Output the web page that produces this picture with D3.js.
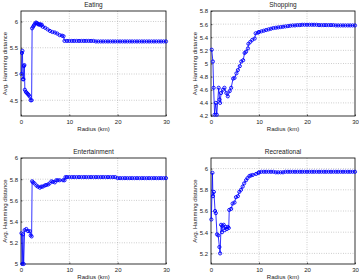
<!DOCTYPE html>
<html><head><meta charset="utf-8">
<script src="https://cdn.jsdelivr.net/npm/d3@7/dist/d3.min.js"></script>
<style>body{margin:0;background:#fff}</style>
</head><body>
<script>
const xTicks = [0, 10, 20, 30];
const tailRadius = [10,10.5,11,11.5,12,12.5,13,13.5,14,14.5,15,15.5,16,16.5,17,17.5,18,18.5,19,19.5,20,20.5,21,21.5,22,22.5,23,23.5,24,24.5,25,25.5,26,26.5,27,27.5,28,28.5,29,29.5,30];

const eatingRadius = [0.1,0.2,0.3,0.4,0.5,0.6,0.7,0.8,1.0,1.2,1.4,1.6,1.8,2.0,2.2,2.3,2.5,2.7,2.9,3.1,3.3,3.5,3.7,3.9,4.1,4.3,4.5,5.0,5.5,6.0,6.5,7.0,7.5,8.0,8.5,8.8,9.0,9.5];
const eatingEarly = [5.0,5.4,5.44,4.9,4.9,5.15,5.17,4.7,4.66,4.64,4.62,4.6,4.57,4.5,4.5,5.87,5.9,5.93,5.96,5.98,5.97,5.95,5.94,5.95,5.93,5.94,5.9,5.88,5.85,5.82,5.8,5.79,5.77,5.74,5.73,5.72,5.63,5.63];
const eatingTail = [5.63,5.63,5.63,5.63,5.63,5.63,5.63,5.63,5.63,5.63,5.63,5.62,5.62,5.62,5.62,5.62,5.62,5.62,5.62,5.62,5.62,5.62,5.62,5.62,5.62,5.62,5.62,5.62,5.62,5.62,5.62,5.62,5.62,5.62,5.62,5.62,5.62,5.62,5.62,5.62,5.62];

const shoppingRadius = [0.15,0.4,0.55,0.75,1.0,1.2,1.6,1.8,1.9,2.1,2.5,2.8,3.2,3.5,3.9,4.2,4.6,4.9,5.3,5.6,6.0,6.3,6.7,7.0,7.3,7.7,7.8,8.2,8.6,9.1,9.3,9.8];
const shoppingEarly = [5.21,5.03,4.63,4.22,4.4,4.22,4.63,4.45,4.4,4.55,4.6,4.63,4.55,4.5,4.58,4.63,4.77,4.78,4.85,4.9,4.96,5.03,5.05,5.16,5.18,5.23,5.3,5.33,5.36,5.38,5.46,5.47];
const shoppingTail = [5.48,5.49,5.5,5.51,5.52,5.53,5.54,5.545,5.55,5.555,5.56,5.565,5.57,5.575,5.58,5.58,5.585,5.585,5.59,5.59,5.59,5.59,5.59,5.59,5.59,5.585,5.585,5.585,5.585,5.585,5.585,5.585,5.58,5.58,5.58,5.58,5.58,5.58,5.58,5.58,5.58];

const entRadius = [0.1,0.25,0.4,0.55,0.75,1.1,1.45,1.8,2.0,2.2,2.3,2.5,2.8,3.2,3.5,3.9,4.2,4.5,4.9,5.2,5.6,5.9,6.3,6.6,7.0,7.3,7.6,8.0,8.7,9.0,9.2,9.5];
const entEarly = [5.29,5.0,5.28,5.0,5.32,5.33,5.31,5.31,5.27,5.26,5.78,5.77,5.76,5.74,5.73,5.72,5.73,5.73,5.74,5.745,5.75,5.76,5.78,5.775,5.77,5.79,5.79,5.79,5.79,5.79,5.82,5.82];
const entTail = [5.82,5.82,5.82,5.82,5.82,5.82,5.82,5.82,5.82,5.82,5.82,5.82,5.82,5.82,5.82,5.82,5.82,5.82,5.82,5.82,5.81,5.81,5.81,5.81,5.81,5.81,5.81,5.81,5.81,5.81,5.81,5.81,5.81,5.81,5.81,5.81,5.81,5.81,5.81,5.81,5.81];

const recRadius = [0.07,0.3,0.4,0.6,0.85,1.0,1.25,1.5,1.75,1.9,2.1,2.3,2.4,2.65,2.85,3.05,3.3,3.5,3.7,3.8,4.2,4.5,4.9,5.2,5.6,5.9,6.25,6.6,6.9,7.3,7.6,8.0,8.3,8.7,9.4,9.9];
const recEarly = [5.52,5.96,5.74,5.78,5.6,5.58,5.38,5.37,5.26,5.2,5.47,5.4,5.46,5.47,5.42,5.45,5.43,5.45,5.44,5.61,5.62,5.67,5.68,5.73,5.74,5.78,5.8,5.83,5.86,5.89,5.91,5.93,5.935,5.94,5.95,5.96];
const recTail = [5.965,5.97,5.97,5.97,5.97,5.97,5.97,5.965,5.965,5.965,5.965,5.97,5.97,5.97,5.97,5.97,5.97,5.97,5.97,5.97,5.97,5.97,5.97,5.97,5.97,5.97,5.97,5.97,5.97,5.97,5.97,5.97,5.97,5.97,5.97,5.97,5.97,5.97,5.97,5.97,5.97];

const eatingTicks = [4.5, 5, 5.5, 6];
const shoppingTicks = [4.2, 4.4, 4.6, 4.8, 5, 5.2, 5.4, 5.6, 5.8];
const entTicks = [5, 5.2, 5.4, 5.6, 5.8, 6];
const recTicks = [5.2, 5.4, 5.6, 5.8, 6];

const titles = ["Eating", "Shopping", "Entertainment", "Recreational"];
const xLabel = "Radius (km)";
const yLabel = "Avg. Hamming distance";

const panels = [
  {title: titles[0], r: eatingRadius.concat(tailRadius), v: eatingEarly.concat(eatingTail), dom: [4.2, 6.2], ticks: eatingTicks, box: [21, 11, 166, 116]},
  {title: titles[1], r: shoppingRadius.concat(tailRadius), v: shoppingEarly.concat(shoppingTail), dom: [4.2, 5.8], ticks: shoppingTicks, box: [211, 11, 355, 116]},
  {title: titles[2], r: entRadius.concat(tailRadius), v: entEarly.concat(entTail), dom: [5, 6], ticks: entTicks, box: [21, 158, 166, 264]},
  {title: titles[3], r: recRadius.concat(tailRadius), v: recEarly.concat(recTail), dom: [5.1, 6.1], ticks: recTicks, box: [211, 158, 355, 264]}
];

const svg = d3.select("body").append("svg").attr("width", 359).attr("height", 280)
  .style("font-family", "'Liberation Sans', Arial, sans-serif");

const fmt = d => String(+d.toFixed(1));

panels.forEach(p => {
  const [x0, y0, x1, y1] = p.box;
  const x = d3.scaleLinear().domain([0, 30]).range([x0, x1]);
  const y = d3.scaleLinear().domain(p.dom).range([y1, y0]);
  const g = svg.append("g");

  // grid
  g.selectAll(".gx").data(xTicks.filter(t => t > 0 && t < 30)).enter().append("line")
    .attr("x1", d => x(d)).attr("x2", d => x(d)).attr("y1", y0).attr("y2", y1)
    .attr("stroke", "#999").attr("stroke-width", 0.6).attr("stroke-dasharray", "0.8,1.6");
  g.selectAll(".gy").data(p.ticks.filter(t => t > p.dom[0] + 1e-9 && t < p.dom[1] - 1e-9)).enter().append("line")
    .attr("x1", x0).attr("x2", x1).attr("y1", d => y(d)).attr("y2", d => y(d))
    .attr("stroke", "#999").attr("stroke-width", 0.6).attr("stroke-dasharray", "0.8,1.6");

  // axes with inward ticks
  const ax = d3.axisBottom(x).tickValues(xTicks).tickSize(-1.5).tickPadding(3.5).tickFormat(d => d);
  const gax = g.append("g").attr("transform", `translate(0,${y1})`).call(ax);
  const ay = d3.axisLeft(y).tickValues(p.ticks).tickSize(-1.5).tickPadding(3).tickFormat(fmt);
  const gay = g.append("g").attr("transform", `translate(${x0},0)`).call(ay);
  [gax, gay].forEach(a => {
    a.select(".domain").remove();
    a.selectAll("line").attr("stroke", "#000").attr("stroke-width", 0.6);
    a.selectAll("text").attr("font-size", 6).attr("fill", "#222").attr("font-family", "'Liberation Sans', Arial, sans-serif");
  });

  // box
  g.append("rect").attr("x", x0).attr("y", y0).attr("width", x1 - x0).attr("height", y1 - y0)
    .attr("fill", "none").attr("stroke", "#000").attr("stroke-width", 0.8);

  const pts = p.r.map((r, i) => [r, p.v[i]]);
  g.append("path").datum(pts)
    .attr("d", d3.line().x(d => x(d[0])).y(d => y(d[1])))
    .attr("fill", "none").attr("stroke", "#0000ff").attr("stroke-width", 0.8);
  g.selectAll("circle").data(pts).enter().append("circle")
    .attr("cx", d => x(d[0])).attr("cy", d => y(d[1])).attr("r", 1.6)
    .attr("fill", "none").attr("stroke", "#0000ff").attr("stroke-width", 0.9);

  // labels
  g.append("text").attr("x", (x0 + x1) / 2).attr("y", y0 - 4).attr("text-anchor", "middle")
    .attr("font-size", 6.5).attr("fill", "#222").text(p.title);
  g.append("text").attr("x", (x0 + x1) / 2).attr("y", y1 + 15).attr("text-anchor", "middle")
    .attr("font-size", 6).attr("fill", "#222").text(xLabel);
  g.append("text").attr("transform", `translate(${x0 - 14},${(y0 + y1) / 2}) rotate(-90)`)
    .attr("text-anchor", "middle").attr("font-size", 6).attr("fill", "#222").text(yLabel);
});
</script>
</body></html>
